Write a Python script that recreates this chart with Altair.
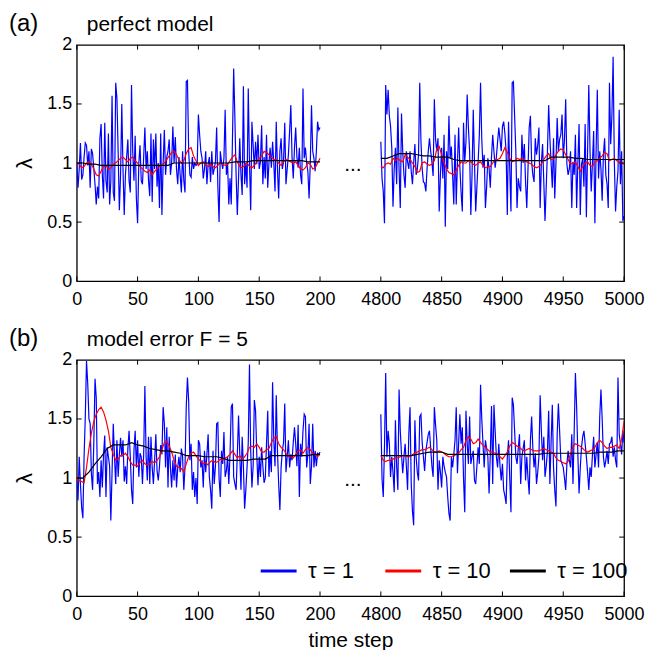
import altair as alt
import pandas as pd

FONT = "Liberation Sans"

SERIES = ["τ = 1", "τ = 10", "τ = 100"]
COLORS = ["#0000ff", "#ff0000", "#000000"]

SEG1_START = 0
SEG2_START = 4800
SEG_LEN = 200
GAP = 50
SHIFT = SEG2_START - (SEG_LEN + GAP)  # 4550
X_TICK_LABELS = [0, 50, 100, 150, 200, 4800, 4850, 4900, 4950, 5000]
Y_TICK_LABELS = [0, 0.5, 1, 1.5, 2]

BLUE_EVERY, RED_EVERY, BLACK_EVERY = 1, 2, 5

# ---------------- panel (a): perfect model ----------------
A1_BLUE = [
    1.00, 0.79, 0.95, 1.17, 0.86, 0.90, 1.05, 1.17, 1.15, 0.98,
    1.10, 0.79, 1.12, 1.08, 0.95, 0.82, 0.65, 0.80, 0.70, 1.21,
    1.33, 0.90, 0.70, 1.34, 0.85, 0.75, 1.25, 0.65, 0.85, 1.57,
    0.75, 0.68, 1.68, 1.55, 1.10, 0.60, 0.90, 1.50, 0.95, 0.56,
    0.90, 1.05, 1.20, 0.85, 0.75, 1.66, 1.10, 0.85, 1.23, 0.70,
    0.49, 1.00, 1.15, 0.85, 0.82, 1.05, 1.30, 0.95, 1.10, 0.85,
    0.72, 1.25, 0.67, 1.20, 0.95, 1.25, 0.80, 1.00, 0.62, 1.25,
    0.56, 1.00, 1.28, 0.90, 1.05, 1.10, 1.20, 0.90, 1.00, 1.31,
    1.00, 1.22, 0.95, 0.82, 1.05, 0.90, 0.75, 1.10, 0.85, 0.75,
    1.69, 1.70, 1.10, 0.90, 0.88, 1.05, 0.95, 1.00, 0.98, 0.99,
    1.41, 1.24, 1.10, 1.04, 0.87, 0.95, 1.10, 0.82, 0.99, 1.05,
    0.84, 1.10, 0.90, 0.95, 1.01, 1.30, 0.80, 0.50, 1.10, 1.01,
    0.95, 1.04, 1.45, 0.90, 1.00, 0.65, 0.87, 0.65, 1.20, 1.80,
    1.38, 0.90, 0.56, 0.87, 1.21, 0.90, 0.73, 1.65, 0.82, 1.00,
    0.79, 1.63, 1.00, 0.60, 1.35, 1.15, 0.95, 1.18, 0.99, 1.24,
    0.95, 1.01, 1.32, 0.82, 1.05, 0.87, 1.24, 0.79, 1.00, 1.13,
    0.96, 1.18, 1.00, 0.76, 1.35, 0.95, 0.70, 1.10, 1.21, 0.95,
    1.01, 1.34, 0.82, 0.95, 1.07, 1.27, 1.49, 1.05, 0.87, 1.13,
    1.30, 1.05, 0.96, 1.13, 0.90, 0.82, 1.63, 1.04, 1.13, 1.00,
    0.93, 0.70, 1.00, 1.49, 1.10, 1.04, 0.93, 1.10, 1.35, 1.28,
    1.30,
]
A2_BLUE = [
    1.18, 0.87, 0.76, 0.49, 1.66, 1.41, 1.62, 1.40, 1.31, 1.13,
    0.63, 0.95, 1.13, 0.82, 1.47, 0.95, 0.62, 1.42, 1.10, 0.90,
    0.79, 1.10, 1.01, 0.95, 1.10, 0.93, 0.82, 1.00, 1.16, 0.90,
    0.95, 1.07, 1.68, 1.18, 0.95, 0.84, 0.83, 0.76, 0.95, 1.10,
    1.21, 1.10, 1.01, 0.89, 1.54, 1.20, 1.10, 1.21, 0.59, 0.90,
    1.13, 0.87, 1.24, 0.46, 1.10, 0.95, 1.40, 1.04, 1.14, 0.90,
    0.65, 1.24, 0.65, 1.00, 1.30, 0.96, 0.75, 0.59, 1.34, 1.01,
    1.18, 1.58, 1.30, 1.10, 0.56, 0.90, 1.45, 1.01, 0.59, 0.80,
    1.01, 1.24, 1.68, 1.20, 0.96, 1.07, 0.62, 0.80, 1.04, 0.96,
    0.79, 1.05, 1.24, 1.10, 0.96, 1.05, 1.18, 1.30, 1.20, 1.10,
    1.31, 1.35, 1.25, 1.10, 0.56, 1.35, 0.95, 0.59, 1.68, 1.69,
    1.40, 1.10, 0.62, 0.87, 0.80, 0.76, 1.24, 1.00, 1.16, 0.84,
    0.62, 0.95, 1.30, 1.40, 1.01, 0.90, 0.84, 1.21, 1.07, 1.15,
    1.30, 0.62, 1.00, 1.16, 0.84, 0.51, 0.80, 1.10, 1.49, 1.21,
    1.00, 0.79, 1.21, 0.70, 1.00, 1.38, 1.10, 1.20, 1.24, 1.41,
    1.04, 1.20, 1.54, 0.99, 0.90, 0.95, 1.10, 0.62, 1.01, 0.90,
    1.24, 0.62, 1.00, 1.33, 0.56, 0.99, 1.04, 0.80, 1.33, 0.54,
    1.10, 1.66, 1.10, 0.76, 1.00, 1.27, 0.49, 1.10, 1.62, 0.87,
    1.10, 0.95, 0.68, 1.07, 1.21, 0.90, 0.82, 0.62, 1.68, 1.16,
    1.40, 1.90, 1.01, 0.59, 0.80, 0.93, 1.45, 0.82, 1.10, 0.51,
    0.55,
]
A1_RED = [
    1.00, 0.99, 0.96, 0.97, 1.00, 1.01, 0.99, 0.95, 0.90, 0.89,
    0.93, 0.97, 0.98, 0.95, 0.96, 0.99, 1.00, 1.02, 1.04, 1.05,
    1.03, 1.01, 1.04, 1.05, 1.02, 1.00, 0.97, 0.95, 0.93, 0.92,
    0.94, 0.90, 0.93, 0.95, 0.97, 0.99, 1.00, 1.03, 1.06, 1.09,
    1.10, 1.07, 1.03, 1.00, 1.02, 1.08, 1.12, 1.13, 1.06, 1.02,
    0.98, 1.00, 1.01, 0.98, 0.97, 0.99, 0.97, 0.96, 0.98, 1.00,
    0.99, 0.98, 0.99, 1.02, 1.05, 1.07, 1.01, 0.97, 0.96, 0.98,
    1.00, 0.97, 0.96, 0.98, 1.01, 1.04, 1.06, 1.10, 1.09, 1.07,
    1.05, 1.03, 1.03, 1.00, 0.98, 1.01, 1.03, 1.02, 1.01, 1.00,
    1.01, 0.98, 0.95, 0.94, 0.96, 1.00, 0.99, 0.95, 0.96, 1.00,
    1.04,
]
A2_RED = [
    0.97, 0.96, 0.99, 1.00, 0.99, 1.04, 1.02, 1.04, 1.02, 1.01,
    1.07, 1.05, 1.03, 1.00, 0.97, 0.92, 0.93, 1.00, 1.01, 0.99,
    0.98, 0.99, 1.02, 1.12, 1.14, 1.07, 1.00, 0.95, 0.92, 0.91,
    0.90, 0.94, 0.98, 1.01, 1.00, 1.00, 1.02, 1.01, 0.99, 0.98,
    1.00, 1.01, 0.98, 0.96, 0.97, 0.97, 1.00, 1.03, 1.03, 1.04,
    1.08, 1.13, 1.09, 1.04, 1.01, 1.02, 1.04, 1.03, 1.04, 1.02,
    1.01, 1.00, 0.99, 0.97, 0.96, 0.97, 0.99, 1.03, 1.06, 1.08,
    1.03, 1.03, 1.07, 1.10, 1.12, 1.11, 1.07, 1.03, 0.99, 1.00,
    1.01, 0.97, 0.93, 0.97, 1.00, 1.01, 0.98, 0.97, 1.01, 1.02,
    1.04, 1.06, 1.09, 1.08, 1.02, 1.03, 1.04, 1.02, 1.01, 1.00,
    0.99,
]
A1_BLACK = [
    1.00, 1.00, 0.99, 0.99, 0.98, 0.98, 0.98, 0.98, 0.98, 0.98,
    0.98, 0.98, 0.98, 0.98, 0.98, 0.98, 1.00, 1.00, 1.00, 1.00,
    1.00, 1.00, 1.00, 1.00, 1.00, 1.00, 1.01, 1.01, 1.01, 1.02,
    1.02, 1.02, 1.02, 1.02, 1.02, 1.02, 1.02, 1.02, 1.01, 1.01,
    1.01,
]
A2_BLACK = [
    1.04, 1.04, 1.06, 1.08, 1.08, 1.08, 1.07, 1.06, 1.06, 1.05,
    1.05, 1.05, 1.03, 1.02, 1.02, 1.02, 1.02, 1.02, 1.02, 1.02,
    1.02, 1.02, 1.02, 1.02, 1.02, 1.02, 1.02, 1.02, 1.05, 1.05,
    1.05, 1.05, 1.04, 1.04, 1.03, 1.03, 1.03, 1.03, 1.03, 1.03,
    1.03,
]

# ---------------- panel (b): model error F = 5 ----------------
B1_BLUE = [
    0.99, 0.81, 1.18, 0.95, 0.75, 0.66, 1.18, 1.52, 1.99, 1.80,
    1.50, 1.46, 1.04, 0.90, 1.30, 1.84, 1.68, 0.95, 1.05, 0.84,
    1.15, 0.92, 1.20, 1.36, 0.84, 1.26, 1.18, 1.10, 0.64, 1.05,
    1.46, 1.18, 0.95, 1.32, 1.01, 1.20, 1.34, 1.18, 1.32, 0.97,
    1.10, 0.95, 1.25, 1.40, 1.18, 0.90, 0.78, 1.23, 1.40, 1.09,
    1.32, 1.01, 1.21, 1.18, 0.95, 1.20, 1.78, 1.18, 0.98, 1.35,
    0.95, 1.35, 1.09, 0.95, 1.15, 1.37, 1.06, 0.98, 1.10, 1.28,
    1.20, 1.60, 1.46, 1.09, 1.43, 0.92, 1.35, 1.09, 0.92, 1.15,
    0.98, 1.20, 0.92, 1.09, 1.18, 1.05, 1.25, 1.18, 0.90, 1.10,
    1.60, 1.85, 1.65, 1.15, 1.29, 0.90, 1.05, 0.84, 1.00, 0.78,
    1.32, 1.29, 1.09, 1.15, 0.92, 1.23, 1.05, 1.20, 1.37, 1.01,
    0.90, 0.74, 1.23, 0.95, 1.10, 1.46, 1.47, 1.00, 0.84, 1.23,
    1.12, 1.39, 1.01, 1.06, 1.18, 0.95, 1.20, 1.60, 1.63, 1.01,
    0.95, 0.90, 1.20, 1.53, 1.21, 0.90, 1.35, 1.10, 0.74, 0.90,
    1.09, 1.30, 1.96, 1.23, 0.92, 1.10, 1.66, 1.57, 1.20, 0.94,
    1.18, 1.01, 1.26, 1.10, 0.96, 1.00, 1.29, 1.57, 1.01, 1.23,
    1.05, 1.81, 1.32, 1.10, 1.70, 1.23, 0.95, 0.73, 1.09, 1.23,
    1.30, 1.63, 1.05, 1.18, 1.32, 1.09, 1.20, 1.15, 1.30, 1.43,
    1.29, 1.10, 1.45, 0.84, 1.29, 1.18, 1.40, 1.54, 1.52, 1.09,
    1.20, 1.46, 0.95, 1.10, 1.46, 1.09, 1.23, 1.10, 1.21, 1.20,
    1.22,
]
B2_BLUE = [
    1.54, 0.99, 0.84, 1.26, 1.89, 1.18, 1.40, 1.29, 1.01, 1.18,
    1.05, 0.88, 1.49, 1.10, 0.90, 1.75, 1.40, 1.20, 1.04, 1.18,
    1.29, 1.10, 0.90, 1.37, 1.60, 0.95, 0.72, 0.60, 1.49, 1.18,
    1.05, 0.98, 1.52, 1.54, 1.30, 1.18, 1.06, 1.23, 1.30, 1.37,
    1.40, 1.25, 1.10, 1.01, 1.60, 1.45, 1.32, 0.90, 1.15, 1.05,
    0.92, 1.18, 1.10, 1.05, 1.01, 0.84, 0.70, 0.64, 1.18, 1.09,
    1.20, 1.32, 1.60, 1.04, 1.30, 1.54, 1.29, 1.43, 1.00, 0.71,
    1.57, 1.30, 1.12, 1.52, 1.12, 1.18, 1.23, 0.98, 0.95, 1.10,
    1.26, 1.12, 1.79, 1.50, 1.29, 1.09, 1.32, 1.25, 1.18, 0.87,
    1.20, 1.61, 0.95, 1.62, 1.40, 1.18, 1.09, 1.29, 1.10, 0.98,
    1.12, 0.90, 0.85, 0.78, 1.18, 1.32, 1.00, 0.71, 1.68, 1.62,
    1.40, 1.18, 1.12, 1.25, 1.37, 0.95, 1.18, 1.25, 1.32, 0.98,
    1.18, 1.00, 0.86, 1.32, 1.52, 1.25, 1.09, 1.21, 0.95, 1.05,
    1.18, 1.70, 1.40, 1.15, 1.35, 1.01, 1.10, 1.23, 1.57, 0.95,
    1.30, 1.62, 1.09, 0.90, 0.76, 1.37, 1.63, 1.40, 1.15, 1.12,
    1.09, 1.00, 0.90, 1.12, 1.23, 1.15, 1.09, 1.37, 0.95, 1.40,
    1.89, 1.60, 1.20, 0.87, 1.09, 1.26, 1.35, 1.40, 1.29, 1.18,
    1.05, 0.90, 1.09, 1.01, 1.20, 1.35, 1.09, 1.20, 1.30, 1.09,
    1.52, 1.75, 1.50, 1.18, 1.09, 1.15, 1.23, 1.12, 1.29, 1.30,
    1.35, 1.18, 1.26, 1.15, 1.09, 1.85, 1.37, 1.29, 1.20, 1.40,
    1.30,
]
B1_RED = [
    0.99, 0.98, 0.97, 0.96, 1.09, 1.25, 1.38, 1.48, 1.54, 1.58,
    1.60, 1.56, 1.49, 1.40, 1.26, 1.20, 1.15, 1.16, 1.19, 1.19,
    1.21, 1.18, 1.14, 1.11, 1.11, 1.10, 1.13, 1.15, 1.12, 1.11,
    1.12, 1.14, 1.13, 1.15, 1.18, 1.24, 1.30, 1.31, 1.27, 1.22,
    1.15, 1.10, 1.09, 1.08, 1.05, 1.12, 1.18, 1.21, 1.22, 1.19,
    1.16, 1.14, 1.12, 1.13, 1.11, 1.14, 1.15, 1.13, 1.14, 1.16,
    1.15, 1.17, 1.18, 1.20, 1.23, 1.20, 1.17, 1.19, 1.16, 1.18,
    1.21, 1.26, 1.27, 1.26, 1.29, 1.26, 1.22, 1.22, 1.24, 1.25,
    1.30, 1.34, 1.35, 1.29, 1.26, 1.24, 1.21, 1.18, 1.18, 1.17,
    1.20, 1.23, 1.24, 1.21, 1.24, 1.26, 1.24, 1.21, 1.20, 1.18,
    1.20,
]
B2_RED = [
    1.19, 1.15, 1.14, 1.15, 1.15, 1.16, 1.17, 1.17, 1.18, 1.19,
    1.19, 1.18, 1.18, 1.20, 1.21, 1.22, 1.23, 1.24, 1.24, 1.25,
    1.26, 1.24, 1.22, 1.22, 1.23, 1.22, 1.21, 1.19, 1.18, 1.18,
    1.19, 1.20, 1.21, 1.24, 1.26, 1.32, 1.35, 1.33, 1.29, 1.30,
    1.33, 1.30, 1.28, 1.26, 1.24, 1.22, 1.22, 1.21, 1.20, 1.18,
    1.16, 1.19, 1.22, 1.27, 1.30, 1.29, 1.27, 1.26, 1.24, 1.23,
    1.24, 1.25, 1.24, 1.23, 1.23, 1.23, 1.24, 1.25, 1.24, 1.23,
    1.22, 1.21, 1.17, 1.15, 1.14, 1.13, 1.12, 1.14, 1.20, 1.27,
    1.29, 1.28, 1.27, 1.25, 1.23, 1.22, 1.23, 1.24, 1.26, 1.30,
    1.32, 1.30, 1.27, 1.25, 1.26, 1.26, 1.27, 1.28, 1.25, 1.33,
    1.48,
]
B1_BLACK = [
    1.00, 1.00, 1.05, 1.12, 1.18, 1.25, 1.28, 1.28, 1.28, 1.30,
    1.28, 1.27, 1.25, 1.24, 1.23, 1.23, 1.22, 1.21, 1.19, 1.19,
    1.19, 1.18, 1.18, 1.18, 1.17, 1.15, 1.15, 1.15, 1.15, 1.16,
    1.16, 1.16, 1.19, 1.19, 1.19, 1.19, 1.19, 1.19, 1.19, 1.20,
    1.20,
]
B2_BLACK = [
    1.19, 1.19, 1.19, 1.19, 1.19, 1.19, 1.20, 1.21, 1.22, 1.22,
    1.22, 1.20, 1.20, 1.20, 1.20, 1.20, 1.20, 1.20, 1.20, 1.20,
    1.20, 1.20, 1.20, 1.20, 1.20, 1.20, 1.20, 1.21, 1.21, 1.21,
    1.21, 1.21, 1.21, 1.21, 1.21, 1.21, 1.22, 1.22, 1.22, 1.23,
    1.23,
]


def to_pos(t):
    """Broken time axis: steps 4800..5000 are drawn right after a gap of 50."""
    return t if t <= SEG1_START + SEG_LEN else t - SHIFT


def build(panel, series_data):
    rows = []
    for series, seg_start, vals, every in series_data:
        for i, v in enumerate(vals):
            t = seg_start + i * every
            rows.append({"panel": panel, "series": series, "seg": seg_start,
                         "t": t, "pos": to_pos(t), "lam": v})
    return pd.DataFrame(rows)


data_a = build("a", [
    (SERIES[0], SEG1_START, A1_BLUE, BLUE_EVERY), (SERIES[0], SEG2_START, A2_BLUE, BLUE_EVERY),
    (SERIES[1], SEG1_START, A1_RED, RED_EVERY), (SERIES[1], SEG2_START, A2_RED, RED_EVERY),
    (SERIES[2], SEG1_START, A1_BLACK, BLACK_EVERY), (SERIES[2], SEG2_START, A2_BLACK, BLACK_EVERY),
])
data_b = build("b", [
    (SERIES[0], SEG1_START, B1_BLUE, BLUE_EVERY), (SERIES[0], SEG2_START, B2_BLUE, BLUE_EVERY),
    (SERIES[1], SEG1_START, B1_RED, RED_EVERY), (SERIES[1], SEG2_START, B2_RED, RED_EVERY),
    (SERIES[2], SEG1_START, B1_BLACK, BLACK_EVERY), (SERIES[2], SEG2_START, B2_BLACK, BLACK_EVERY),
])

TICK_POS = [to_pos(t) for t in X_TICK_LABELS]
X_MAX = to_pos(SEG2_START + SEG_LEN)

# inward tick marks on all four sides (start pos/lam -> end pos2/lam2, data units)
tick_rows = []
for p in TICK_POS:
    tick_rows.append({"pos": p, "pos2": p, "lam": 0, "lam2": 0.04})
    tick_rows.append({"pos": p, "pos2": p, "lam": 2, "lam2": 1.96})
for v in Y_TICK_LABELS[1:-1]:
    tick_rows.append({"pos": 0, "pos2": 4, "lam": v, "lam2": v})
    tick_rows.append({"pos": X_MAX, "pos2": X_MAX - 4, "lam": v, "lam2": v})
ticks_df = pd.DataFrame(tick_rows)

XSCALE = alt.Scale(domain=[0, X_MAX], nice=False, zero=False)
YSCALE = alt.Scale(domain=[0, 2], nice=False, zero=False)


def panel_chart(df, label, caption, show_legend, show_xtitle):
    x_axis = alt.Axis(values=TICK_POS,
                      labelExpr=f"datum.value > {SEG_LEN + GAP / 2} ? datum.value + {SHIFT} : datum.value",
                      ticks=False, domain=False, grid=False, labelFontSize=18, labelFont=FONT,
                      labelColor="black", labelPadding=9, labelOverlap=False, labelFlush=False,
                      titleFontSize=21, titleFont=FONT, titleColor="black",
                      titleFontWeight="normal", titlePadding=6)
    if show_xtitle:
        x_enc = alt.X("pos:Q", scale=XSCALE, axis=x_axis, title="time step")
    else:
        x_enc = alt.X("pos:Q", scale=XSCALE, axis=x_axis, title=None)
    y_axis = alt.Axis(values=Y_TICK_LABELS, format="~g", ticks=False, domain=False, grid=False,
                      labelFontSize=18, labelFont=FONT, labelColor="black", labelPadding=5,
                      titleFontSize=22, titleFont=FONT, titleColor="black",
                      titleFontWeight="normal", titlePadding=10)
    y_enc = alt.Y("lam:Q", scale=YSCALE, axis=y_axis, title="λ")
    cscale = alt.Scale(domain=SERIES, range=COLORS)
    if show_legend:
        color_enc = alt.Color("series:N", scale=cscale, sort=SERIES,
                              legend=alt.Legend(orient="none", legendX=183, legendY=192,
                                                direction="horizontal", columns=3,
                                                gridAlign="all", columnPadding=0,
                                                symbolType="stroke", symbolSize=1296,
                                                symbolStrokeWidth=3, labelFontSize=22,
                                                labelFont=FONT, labelColor="black",
                                                labelOffset=10, padding=0, title=None))
    else:
        color_enc = alt.Color("series:N", scale=cscale, sort=SERIES, legend=None)

    lines = alt.Chart(df).mark_line(strokeWidth=1.2, clip=True).encode(
        x=x_enc, y=y_enc, color=color_enc, detail="seg:N")

    ticks = alt.Chart(ticks_df).mark_rule(color="black", strokeWidth=1).encode(
        x=x_enc, x2="pos2:Q", y=y_enc, y2="lam2:Q")

    dots = alt.Chart(pd.DataFrame({"pos": [227], "lam": [0.93], "txt": ["..."]})).mark_text(
        align="center", baseline="alphabetic", fontSize=21, font=FONT, color="black").encode(
        x=x_enc, y=y_enc, text="txt:N")

    lab = alt.Chart(pd.DataFrame({"txt": [label]})).mark_text(
        align="left", baseline="alphabetic", fontSize=24, font=FONT, color="black").encode(
        x=alt.value(-68), y=alt.value(-14), text="txt:N")
    cap = alt.Chart(pd.DataFrame({"txt": [caption]})).mark_text(
        align="left", baseline="alphabetic", fontSize=21, font=FONT, color="black").encode(
        x=alt.value(10), y=alt.value(-14), text="txt:N")

    return alt.layer(lines, ticks, dots, lab, cap).properties(width=549, height=237)


pa = panel_chart(data_a, "(a)", "perfect model", False, False)
pb = panel_chart(data_b, "(b)", "model error F = 5", True, True)

chart = (
    alt.vconcat(pa, pb, spacing=17)
    .resolve_legend(color="independent")
    .properties(padding={"left": 0, "top": 2, "right": 0, "bottom": 0}, background="white")
    .configure_view(stroke="black", strokeWidth=1.3)
)

chart.save("out.html", embed_options={"renderer": "svg", "actions": False})
